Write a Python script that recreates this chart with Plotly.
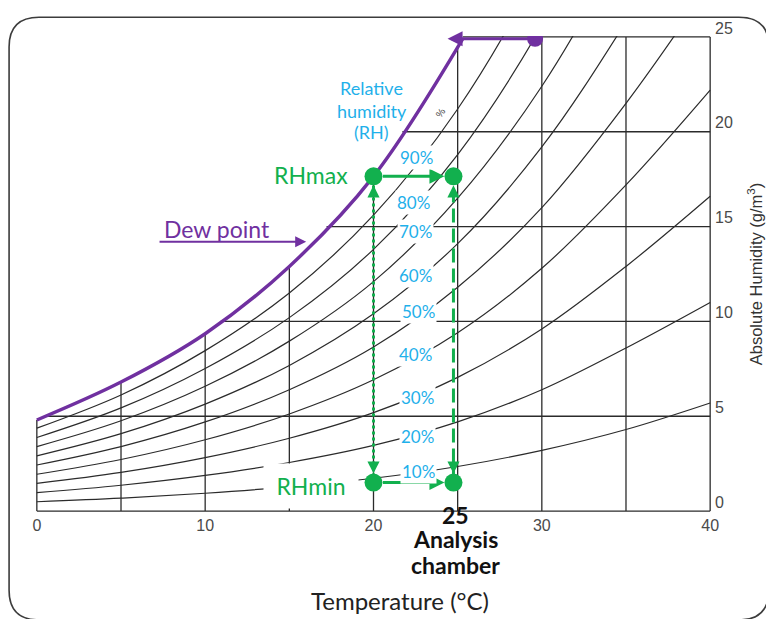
import numpy as np
import plotly.graph_objects as go

# ---------------- data ----------------
temps = [0, 5, 10, 15, 20, 25, 30, 35, 40]          # °C
rh_labels = ["10%", "20%", "30%", "40%", "50%", "60%", "70%", "80%", "90%"]
rh10 = [0.49, 0.68, 0.94, 1.28, 1.73, 2.35, 3.20, 4.30, 5.70]
rh20 = [0.97, 1.36, 1.88, 2.56, 3.46, 4.70, 6.40, 8.60, 11.0]
rh30 = [1.46, 2.04, 2.82, 3.84, 5.19, 7.05, 9.60, 12.9, 16.6]
rh40 = [1.94, 2.72, 3.76, 5.12, 6.92, 9.40, 12.8, 17.2, 22.2]
rh50 = [2.43, 3.40, 4.70, 6.40, 8.65, 11.8, 16.0, 21.5, 27.8]
rh60 = [2.91, 4.08, 5.64, 7.68, 10.4, 14.1, 19.2, 25.8, 33.3]
rh70 = [3.40, 4.76, 6.58, 8.96, 12.1, 16.5, 22.4, 30.1, 38.9]
rh80 = [3.88, 5.44, 7.52, 10.2, 13.8, 18.8, 25.6, 34.4, 44.4]
rh90 = [4.37, 6.12, 8.46, 11.5, 15.6, 21.2, 28.8, 38.7, 50.0]
rh_curves = [rh10, rh20, rh30, rh40, rh50, rh60, rh70, rh80, rh90]

# dew point (100 % RH) curve as drawn in purple
dew_t = [0, 5, 10, 15, 20, 25.3]
dew_ah = [4.8, 6.8, 9.35, 12.9, 17.65, 24.9]

# grid of the original chart
grid_t = [0, 5, 10, 15, 20, 25, 30, 35, 40]
grid_ah = [0, 5, 10, 15, 20, 25]
x_ticks = [0, 10, 20, 30, 40]
y_ticks = [0, 5, 10, 15, 20, 25]

# analysis points
t_lab = 20.0          # RH max / min points on 20 °C
t_chamber = 24.75     # analysis chamber, 25 °C
rh_max_ah = 17.65
rh_min_ah = 1.5
purple_dot = (29.6, 24.9)
purple_arrow_tip_t = 24.4

# label positions of percentages (on their curves)
pct_t = [22.70, 22.64, 22.64, 22.52, 22.70, 22.52, 22.52, 22.40, 22.58]
pct_ah = [2.09, 3.91, 6.00, 8.25, 10.54, 12.42, 14.72, 16.28, 18.63]

PURPLE = "#7030a0"
GREEN = "#12b04e"
BLUE = "#1fb0ea"
INK = "#2b2b2b"

# layout geometry (page body has an 8 px margin)
OFF = 8
W, H = 774 - OFF, 619 - OFF
ML, MR, MT, MB = 36 - OFF, 61, 31 - OFF, 107
PW, PH = W - ML - MR, H - MT - MB


def paper(px, py):
    """page pixel -> paper coordinates"""
    return (px - OFF - ML) / PW, (H - MB - (py - OFF)) / PH


fig = go.Figure()

# ---------- grid segments bounded by the dew point curve ----------
gx, gy = [], []
for t in grid_t:
    top = float(np.interp(t, dew_t, dew_ah)) if t <= dew_t[-1] else 25
    gx += [t, t, None]
    gy += [0, min(top, 25), None]
for a in grid_ah:
    start = float(np.interp(a, dew_ah, dew_t)) if a >= dew_ah[0] else 0
    gx += [start, 40, None]
    gy += [a, a, None]
fig.add_trace(go.Scatter(x=gx, y=gy, mode="lines",
                         line=dict(color=INK, width=1.3), hoverinfo="skip"))

# ---------- relative humidity curves ----------
for vals in rh_curves:
    fig.add_trace(go.Scatter(x=temps, y=vals, mode="lines",
                             line=dict(color=INK, width=1.2, shape="spline"),
                             hoverinfo="skip"))

# ---------- dew point curve ----------
fig.add_trace(go.Scatter(x=dew_t, y=dew_ah, mode="lines",
                         line=dict(color=PURPLE, width=3.4, shape="spline"),
                         hoverinfo="skip"))
fig.add_trace(go.Scatter(x=[purple_dot[0]], y=[purple_dot[1]], mode="markers",
                         marker=dict(color=PURPLE, size=16), hoverinfo="skip"))

# ---------- green vertical connections ----------
fig.add_trace(go.Scatter(x=[t_lab, t_lab], y=[rh_min_ah, rh_max_ah], mode="lines",
                         line=dict(color=GREEN, width=3, dash="dot"), hoverinfo="skip"))
fig.add_trace(go.Scatter(x=[t_chamber, t_chamber], y=[rh_min_ah, rh_max_ah], mode="lines",
                         line=dict(color=GREEN, width=3, dash="14px,6px"), hoverinfo="skip"))

# ---------- green points ----------
fig.add_trace(go.Scatter(x=[t_lab, t_chamber, t_lab, t_chamber],
                         y=[rh_max_ah, rh_max_ah, rh_min_ah, rh_min_ah],
                         mode="markers", marker=dict(color=GREEN, size=18),
                         hoverinfo="skip"))

ann = []


def arrow(x, y, ax, ay, color, width, standoff=0, startstandoff=0, size=1.0, head=2):
    ann.append(dict(x=x, y=y, ax=ax, ay=ay, xref="x", yref="y", axref="x", ayref="y",
                    showarrow=True, arrowhead=head, arrowsize=size, arrowwidth=width,
                    arrowcolor=color, standoff=standoff, startstandoff=startstandoff,
                    text=""))


# horizontal green arrows
arrow(t_chamber, rh_max_ah, t_lab, rh_max_ah, GREEN, 3, standoff=9, startstandoff=8)
arrow(t_chamber, rh_min_ah, t_lab, rh_min_ah, GREEN, 3, standoff=9, startstandoff=8)
# vertical arrow heads
for tt in (t_lab, t_chamber):
    arrow(tt, rh_max_ah, tt, rh_max_ah - 1.1, GREEN, 2.2, standoff=9, size=1.1)
    arrow(tt, rh_min_ah, tt, rh_min_ah + 1.1, GREEN, 2.2, standoff=9, size=1.1)
# purple top arrow
arrow(purple_arrow_tip_t, purple_dot[1], purple_dot[0], purple_dot[1], PURPLE, 3, size=1.0)
# dew point pointer
arrow(16.0, 14.2, 7.2, 14.2, PURPLE, 2, size=1.1)

LAB = "Lato, 'Open Sans', sans-serif"

# percentage labels
for lab, tx, ty in zip(rh_labels, pct_t, pct_ah):
    ann.append(dict(x=tx, y=ty, xref="x", yref="y", text=lab, showarrow=False,
                    font=dict(family=LAB, size=17, color=BLUE),
                    bgcolor="white", borderpad=1))

# Relative humidity label
for txt, ty in zip(["Relative", "humidity", "(RH)"], [22.3, 21.1, 20.0]):
    ann.append(dict(x=19.9, y=ty, xref="x", yref="y", text=txt, showarrow=False,
                    font=dict(family=LAB, size=18, color=BLUE)))

# RH max / min labels
ann.append(dict(x=16.3, y=17.7, xref="x", yref="y", text="RHmax", showarrow=False,
                font=dict(family=LAB, size=23, color=GREEN)))
ann.append(dict(x=16.3, y=1.3, xref="x", yref="y", text="RHmin", showarrow=False,
                font=dict(family=LAB, size=23, color=GREEN),
                bgcolor="white", borderpad=8, width=78))

# Dew point label
ann.append(dict(x=10.7, y=14.85, xref="x", yref="y", text="Dew point", showarrow=False,
                font=dict(family=LAB, size=23, color=PURPLE)))

# remnant of original 100 % label
ann.append(dict(x=24.0, y=21.0, xref="x", yref="y", text="%", showarrow=False,
                textangle=-55, font=dict(family="Liberation Sans", size=10, color="#444")))

# bottom labels
for txt, py in zip(["25", "Analysis", "chamber"], [515, 539, 566]):
    px_, py_ = paper(457, py)
    ann.append(dict(x=px_, y=py_, xref="paper", yref="paper", text="<b>%s</b>" % txt,
                    xanchor="center", yanchor="middle",
                    showarrow=False, font=dict(family=LAB, size=23, color="#111")))
px_, py_ = paper(401, 601)
ann.append(dict(x=px_, y=py_, xref="paper", yref="paper", text="Temperature (°C)",
                xanchor="center", yanchor="middle",
                showarrow=False, font=dict(family=LAB, size=24, color="#222")))

# ---------- rounded frame ----------
fx0, fy0, fx1, fy1, r = 9, 12, 771, 621, 30


def P(px, py):
    a, b = paper(px, py)
    return "%.5f,%.5f" % (a, b)


frame = ("M " + P(fx0 + r, fy0) + " L " + P(fx1 - r, fy0) +
         " Q " + P(fx1, fy0) + " " + P(fx1, fy0 + r) +
         " L " + P(fx1, fy1 - r) +
         " Q " + P(fx1, fy1) + " " + P(fx1 - r, fy1) +
         " L " + P(fx0 + r, fy1) +
         " Q " + P(fx0, fy1) + " " + P(fx0, fy1 - r) +
         " L " + P(fx0, fy0 + r) +
         " Q " + P(fx0, fy0) + " " + P(fx0 + r, fy0) + " Z")

fig.update_layout(
    width=W, height=H,
    margin=dict(l=ML, r=MR, t=MT, b=MB, pad=0),
    paper_bgcolor="white", plot_bgcolor="white",
    showlegend=False,
    annotations=ann,
    shapes=[dict(type="path", path=frame, xref="paper", yref="paper",
                 line=dict(color="#3c3c3c", width=1.6), layer="below")],
    xaxis=dict(range=[-0.05, 40.05], showgrid=False, zeroline=False, showline=False,
               tickvals=x_ticks, ticks="", ticklabelstandoff=2,
               tickfont=dict(family="Liberation Sans", size=16, color="#4a4a4a")),
    yaxis=dict(range=[-0.05, 25.05], side="right", showgrid=False, zeroline=False,
               showline=False, tickvals=y_ticks, ticks="", ticklabelshift=-9,
               ticklabelstandoff=3,
               tickfont=dict(family="Liberation Sans", size=16, color="#4a4a4a"),
               title=dict(text="Absolute Humidity (g/m<sup>3</sup>)", standoff=18,
                          font=dict(family="Liberation Sans", size=16.5, color="#333"))),
)

fig.write_html("out.html")
